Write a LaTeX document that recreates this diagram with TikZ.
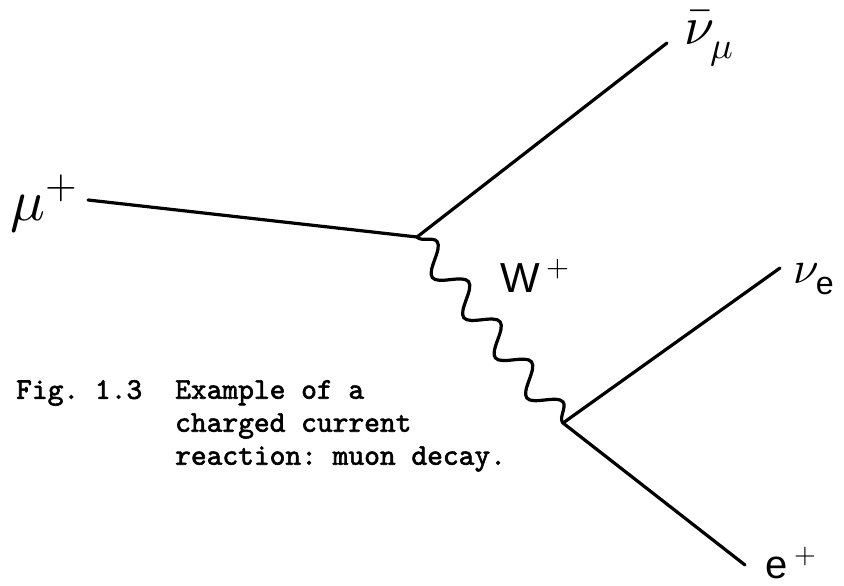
\documentclass[tikz,border=0pt]{standalone}
\usepackage{fontspec}
\usepackage{unicode-math}
\setmainfont{Liberation Serif}
\setsansfont{Liberation Sans}
\setmathfont{Latin Modern Math}
\newfontfamily\typew{lmmono10-regular.otf}[FakeBold=2]
\usetikzlibrary{decorations.pathmorphing}
\definecolor{cInk}{HTML}{000000}
\tikzset{
  line/.style={draw=cInk,line width=3.2pt,line cap=round},
  wave/.style={line,decorate,decoration={snake,segment length=51pt,amplitude=13pt}},
  lbl/.style={inner sep=0pt,anchor=base west,text=cInk,font=\fontsize{#1}{#1}\selectfont},
  capt/.style={inner sep=0pt,anchor=north west,align=left,text=cInk,
               font=\fontsize{30}{33}\selectfont\typew\frenchspacing},
}

\begin{document}
\begin{tikzpicture}[x=1pt,y=-1pt]
\useasboundingbox (0,0) rectangle (844,586);

% ---------------------------------------------------------------- VERTICES
\coordinate (v1) at (417,237);
\coordinate (v2) at (563,423);
\coordinate (muEnd)   at (88,200);
\coordinate (numuEnd) at (667,43);
\coordinate (nueEnd)  at (780,268);
\coordinate (posEnd)  at (745,565);

% ---------------------------------------------------------------- LABELS
\node[lbl=58] (mu)   at (10,220)  {$\mu^{+}$};
\node[lbl=54] (numu) at (684,45)  {$\bar{\nu}_{\mu}$};
\node[lbl=42] (wb)   at (500,292) {\textsf{W}\,$^{+}$};
\node[lbl=46] (nue)  at (793,283) {$\nu_{\textsf{e}}$};
\node[lbl=40] (pos)  at (765,578) {\textsf{e}\,$^{+}$};

% ---------------------------------------------------------------- CAPTION
\node[capt] (fig)  at (16,380)  {Fig. 1.3};
\node[capt] (text) at (175,380) {Example of a\\charged current\\reaction: muon decay.};

% ---------------------------------------------------------------- LINES
\draw[line] (muEnd) -- (v1);
\draw[line] (v1) -- (numuEnd);
\draw[wave] (v1) -- (v2);
\draw[line] (v2) -- (nueEnd);
\draw[line] (v2) -- (posEnd);

\end{tikzpicture}
\end{document}
